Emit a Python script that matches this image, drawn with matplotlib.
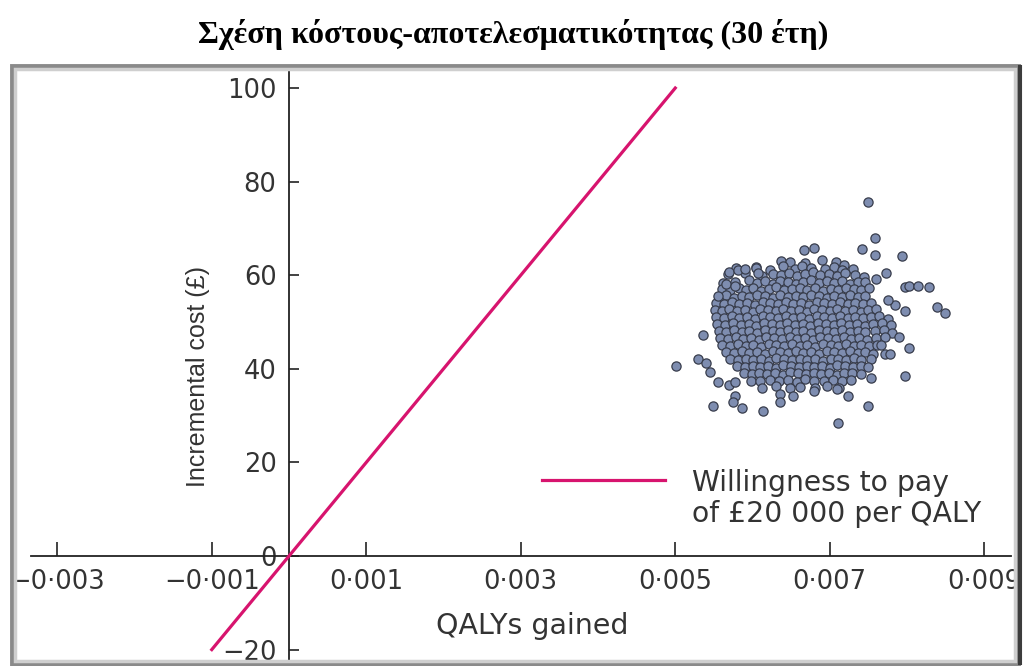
import numpy as np
import matplotlib.pyplot as plt
from matplotlib.lines import Line2D
from matplotlib.patches import Rectangle

# bootstrap replicates, QALYs gained in units of 1e-5
qalys_gained_e5 = [
    637, 648, 668, 690, 708, 719,
    578, 604, 622, 640, 655, 664, 676, 694, 705, 716, 730,
    568, 590, 612, 627, 637, 647, 657, 668, 678, 688, 699, 709, 720, 733, 744,
    562, 577, 596, 606, 616, 626, 636, 646, 656, 666, 676, 686, 696, 706, 716, 726, 736, 746,
    560, 571, 582, 592, 601, 611, 621, 631, 641, 651, 661, 671, 681, 691, 701, 711, 721, 731, 741, 751,
    556, 566, 576, 586, 596, 606, 616, 626, 636, 646, 656, 666, 676, 686, 696, 706, 716, 726, 736, 746,
    553, 563, 573, 583, 593, 603, 613, 623, 633, 643, 653, 663, 673, 683, 693, 703, 713, 723, 733, 743, 754,
    551, 560, 570, 580, 590, 600, 610, 620, 630, 640, 650, 660, 670, 680, 690, 700, 710, 720, 730, 740, 750, 760,
    553, 563, 573, 583, 593, 603, 613, 623, 633, 643, 653, 663, 673, 683, 693, 703, 713, 723, 733, 743, 753, 764, 775,
    554, 565, 575, 585, 595, 605, 615, 625, 635, 645, 655, 665, 675, 685, 695, 705, 715, 725, 735, 745, 756, 768, 779,
    556, 566, 576, 586, 596, 606, 616, 626, 636, 646, 656, 666, 676, 686, 696, 706, 716, 726, 736, 746, 758, 770, 781,
    558, 568, 578, 588, 598, 608, 618, 628, 638, 648, 658, 668, 678, 688, 698, 708, 718, 728, 738, 748, 760, 771,
    561, 571, 581, 591, 601, 611, 621, 631, 641, 651, 661, 671, 681, 691, 701, 711, 721, 731, 741, 751, 761,
    566, 576, 586, 596, 606, 616, 626, 636, 646, 656, 666, 676, 686, 696, 706, 716, 726, 736, 746, 756,
    571, 581, 591, 601, 611, 621, 631, 641, 651, 661, 671, 681, 691, 701, 711, 721, 731, 741, 754,
    580, 590, 600, 610, 620, 630, 640, 650, 660, 670, 680, 690, 700, 710, 720, 730, 740, 750,
    589, 599, 609, 619, 629, 639, 649, 659, 669, 679, 689, 699, 709, 719, 729, 740,
    598, 610, 622, 634, 646, 658, 668, 680, 692, 704, 716, 728,
    612, 630, 648, 662, 681, 697, 712,
    # scattered replicates around the cloud
    749, 758, 742, 759, 794, 667, 680, 773, 760, 797, 803, 814, 828, 839, 849, 797, 784, 775,
    536, 501, 530, 540, 545, 555, 570, 577, 577, 575, 549, 586, 614, 636, 636, 652, 680, 710,
    723, 749, 711, 754, 797, 766, 772, 778, 803, 790, 555, 566, 577, 570, 581, 590, 604, 607,
]
# incremental cost (£) for each replicate, same order
incremental_cost = [
    63.1, 62.8, 62.6, 63.3, 62.9, 62.2,
    61.5, 61.7, 61.2, 61.9, 61.4, 62.0, 61.6, 61.3, 61.8, 61.1, 61.4,
    60.2, 60.4, 59.8, 60.3, 60.0, 60.5, 59.9, 60.2, 60.6, 60.0, 60.3, 59.8, 60.4, 60.1, 59.7,
    58.3, 58.6, 58.9, 58.4, 58.7, 58.2, 58.8, 58.5, 58.1, 58.6, 58.9, 58.3, 58.7, 58.4, 58.8, 58.2, 58.5, 58.6,
    57.0, 56.8, 57.3, 56.9, 57.2, 56.7, 57.1, 57.4, 56.8, 57.0, 57.3, 56.9, 57.2, 56.7, 57.1, 56.9, 57.3, 57.0, 56.8, 57.2,
    55.4, 55.7, 55.2, 55.6, 55.3, 55.8, 55.5, 55.2, 55.7, 55.4, 55.6, 55.3, 55.8, 55.5, 55.2, 55.6, 55.4, 55.7, 55.3, 55.5,
    54.0, 53.8, 54.2, 53.9, 54.1, 53.7, 54.3, 54.0, 53.8, 54.2, 53.9, 54.1, 53.7, 54.2, 54.0, 53.8, 54.3, 53.9, 54.1, 53.8, 54.0,
    52.5, 52.3, 52.7, 52.4, 52.6, 52.2, 52.8, 52.5, 52.3, 52.7, 52.4, 52.6, 52.2, 52.8, 52.5, 52.3, 52.7, 52.4, 52.6, 52.2, 52.5, 52.7,
    51.0, 50.8, 51.2, 50.9, 51.1, 50.7, 51.3, 51.0, 50.8, 51.2, 50.9, 51.1, 50.7, 51.2, 51.0, 50.8, 51.3, 50.9, 51.1, 50.8, 51.0, 51.2, 50.7,
    49.5, 49.3, 49.7, 49.4, 49.6, 49.2, 49.8, 49.5, 49.3, 49.7, 49.4, 49.6, 49.2, 49.8, 49.5, 49.3, 49.7, 49.4, 49.6, 49.2, 49.5, 49.7, 49.4,
    48.0, 47.8, 48.2, 47.9, 48.1, 47.7, 48.3, 48.0, 47.8, 48.2, 47.9, 48.1, 47.7, 48.2, 48.0, 47.8, 48.3, 47.9, 48.1, 47.8, 48.0, 48.2, 47.7,
    46.5, 46.3, 46.7, 46.4, 46.6, 46.2, 46.8, 46.5, 46.3, 46.7, 46.4, 46.6, 46.2, 46.8, 46.5, 46.3, 46.7, 46.4, 46.6, 46.2, 46.5, 46.7,
    45.0, 44.8, 45.2, 44.9, 45.1, 44.7, 45.3, 45.0, 44.8, 45.2, 44.9, 45.1, 44.7, 45.2, 45.0, 44.8, 45.3, 44.9, 45.1, 44.8, 45.0,
    43.5, 43.3, 43.7, 43.4, 43.6, 43.2, 43.8, 43.5, 43.3, 43.7, 43.4, 43.6, 43.2, 43.8, 43.5, 43.3, 43.7, 43.4, 43.6, 43.2,
    42.0, 41.8, 42.2, 41.9, 42.1, 41.7, 42.3, 42.0, 41.8, 42.2, 41.9, 42.1, 41.7, 42.2, 42.0, 41.8, 42.3, 41.9, 42.1,
    40.5, 40.3, 40.7, 40.4, 40.6, 40.2, 40.8, 40.5, 40.3, 40.7, 40.4, 40.6, 40.2, 40.8, 40.5, 40.3, 40.7, 40.4,
    39.0, 38.8, 39.2, 38.9, 39.1, 38.7, 39.3, 39.0, 38.8, 39.2, 38.9, 39.1, 38.7, 39.2, 39.0, 38.8,
    37.5, 37.3, 37.7, 37.4, 37.6, 37.2, 37.8, 37.5, 37.3, 37.7, 37.4, 37.6,
    36.0, 36.3, 35.8, 36.2, 35.9, 36.4, 36.0,
    75.6, 68.0, 65.5, 64.3, 64.0, 65.3, 65.8, 60.5, 59.1, 57.5, 57.6, 57.6, 57.5, 53.2, 52.0, 52.3, 53.7, 54.8,
    47.3, 40.7, 42.1, 41.2, 39.4, 37.1, 36.6, 37.1, 34.1, 33.0, 32.1, 31.6, 30.9, 34.7, 33.0, 34.1, 35.2, 35.7,
    34.2, 32.1, 28.5, 38.0, 38.4, 45.1, 43.2, 43.2, 44.4, 46.9, 55.6, 58.1, 57.6, 60.6, 61.2, 61.4, 61.5, 60.5,
]

# willingness to pay threshold line (£20 000 per QALY)
wtp_qalys = [-0.001, 0.005]
wtp_cost = [-20, 100]

x_ticks = [-0.003, -0.001, 0.001, 0.003, 0.005, 0.007, 0.009]
x_tick_labels = ['\u22120\u00b7003', '\u22120\u00b7001', '0\u00b7001', '0\u00b7003', '0\u00b7005', '0\u00b7007', '0\u00b7009']
y_ticks = [-20, 0, 20, 40, 60, 80, 100]
y_tick_labels = ['\u221220', '0', '20', '40', '60', '80', '100']

W, H = 1027, 666
fig = plt.figure(figsize=(W / 100, H / 100), dpi=100)
fig.patch.set_facecolor('white')

ax = fig.add_axes([15 / W, 1 - 660 / H, 998 / W, 590 / H])
ax.set_facecolor('none')
ax.set_xlim(-0.003547, 0.009372)
ax.set_ylim(-22.22, 103.85)

qalys = np.array(qalys_gained_e5) * 1e-5
ax.scatter(qalys, incremental_cost, s=44, c='#7e8db0', edgecolors='#383d4c',
           linewidths=0.9, zorder=3)
ax.plot(wtp_qalys, wtp_cost, color='#d7146e', lw=2.3, zorder=4)

for side in ['top', 'right']:
    ax.spines[side].set_visible(False)
ax.spines['left'].set_position(('data', 0))
ax.spines['bottom'].set_position(('data', 0))
ax.spines['bottom'].set_bounds(-0.00334, 0.00934)
for side in ['left', 'bottom']:
    ax.spines[side].set_linewidth(1.3)
    ax.spines[side].set_color('#222222')

ax.set_xticks(x_ticks)
ax.set_xticklabels(x_tick_labels)
ax.set_yticks(y_ticks)
ax.set_yticklabels(y_tick_labels)
ax.tick_params(axis='x', direction='in', length=10, width=1.2, pad=9, labelsize=18.5,
               colors='#222222', labelcolor='#333333')
ax.tick_params(axis='y', direction='in', length=7, width=1.2, pad=9, labelsize=18.5,
               colors='#222222', labelcolor='#333333')

ax.set_xlabel('QALYs gained', fontsize=20.5, color='#333333')
ax.xaxis.set_label_coords(0.518, 0.082)
ax.set_ylabel('Incremental cost (\u00a3)', fontsize=18, family='Liberation Sans', color='#333333')
ax.yaxis.set_label_coords(0.195, 0.48)

# legend key drawn by hand, text sits beside it
ax.add_line(Line2D([0.528, 0.651], [0.305, 0.305], transform=ax.transAxes,
                   color='#d7146e', lw=2.3))
ax.text(0.678, 0.323, 'Willingness to pay\nof \u00a320 000 per QALY', transform=ax.transAxes,
        fontsize=20.3, color='#333333', va='top', ha='left', linespacing=1.1)

fig.text(0.5, 1 - 34 / H, 'Σχέση κόστους-αποτελεσματικότητας (30 έτη)',
         ha='center', va='center', family='Liberation Serif', fontweight='bold', fontsize=23)

# picture frame with a soft grey border
def px_rect(x0, y0, x1, y1, **kw):
    return Rectangle((x0 / W, 1 - y1 / H), (x1 - x0) / W, (y1 - y0) / H,
                     transform=fig.transFigure, fill=False, **kw)

fig.patches.append(px_rect(12, 66, 1018, 664, edgecolor='#8a8a8a', lw=3.5))
fig.patches.append(px_rect(15, 69, 1015, 661, edgecolor='#cfcfcf', lw=2.5))
fig.patches.append(px_rect(1019, 66, 1021, 664, edgecolor='#3c3c3c', lw=1.5))

fig.savefig('out.png', dpi=100)
